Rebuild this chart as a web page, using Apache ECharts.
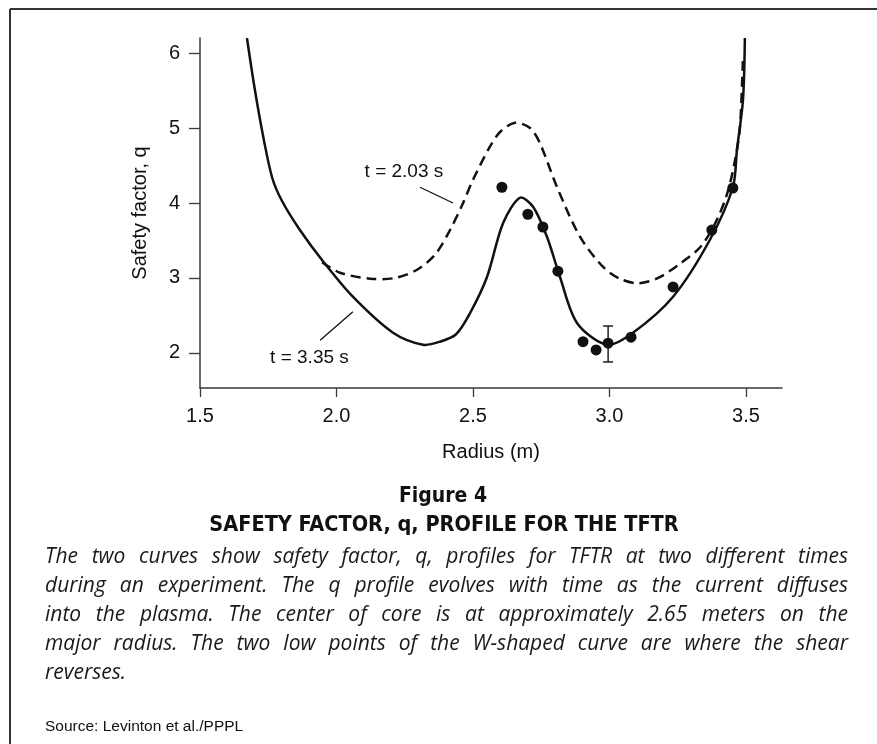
<!DOCTYPE html>
<html><head><meta charset="utf-8">
<script src="https://cdn.jsdelivr.net/npm/echarts@6/dist/echarts.min.js"></script>
<style>html,body{margin:0;padding:0;background:#fff}#c{width:877px;height:744px}</style>
</head><body><div id="c"></div>
<script>
// ---- data ----
const xTickValues = [1.5, 2.0, 2.5, 3.0, 3.5];
const yTickValues = [2, 3, 4, 5, 6];

// t = 3.35 s (solid)
const solidRadius = [1.672,1.701,1.734,1.765,1.800,1.866,1.947,2.060,2.207,2.317,2.379,2.438,2.489,2.551,2.610,2.672,2.720,2.771,2.819,2.881,2.991,3.086,3.233,3.368,3.452,3.467,3.489,3.496];
const solidQ      = [6.20, 5.51, 4.84, 4.33, 4.03, 3.64, 3.24, 2.75, 2.27, 2.11, 2.15, 2.25, 2.53, 3.01, 3.73, 4.07, 3.95, 3.55, 3.01, 2.40, 2.11, 2.27, 2.75, 3.51, 4.21, 4.71, 5.37, 6.20];

// t = 2.03 s (dashed)
const dashedRadius = [1.947,2.013,2.123,2.214,2.295,2.361,2.416,2.460,2.500,2.562,2.600,2.654,2.709,2.745,2.808,2.892,2.976,3.038,3.104,3.178,3.258,3.332,3.386,3.430,3.460,3.478,3.489];
const dashedQ      = [3.21, 3.07, 2.99, 3.00, 3.11, 3.31, 3.64, 3.97, 4.31, 4.75, 4.95, 5.07, 5.00, 4.80, 4.21, 3.55, 3.15, 2.99, 2.93, 3.00, 3.19, 3.41, 3.72, 4.11, 4.57, 5.01, 5.95];

// measured points
const dotRadius = [2.606,2.701,2.756,2.811,2.903,2.951,2.995,3.079,3.233,3.375,3.452];
const dotQ      = [4.21, 3.85, 3.68, 3.09, 2.15, 2.04, 2.13, 2.21, 2.88, 3.64, 4.20];

// error bar
const errRadius = [2.995];
const errLow    = [1.88];
const errHigh   = [2.36];

// curve labels and leader lines (data coordinates)
const labelText   = ['t = 2.03 s', 't = 3.35 s'];
const labelRadius = [2.247, 1.901];
const labelQ      = [4.41, 1.93];
const leader1 = [[2.306, 4.21], [2.427, 4.00]];
const leader2 = [[1.940, 2.17], [2.060, 2.55]];

const captionFigure = 'Figure 4';
const captionTitle = 'SAFETY FACTOR, q, PROFILE FOR THE TFTR';
const captionLines = [
  'The two curves show safety factor, q, profiles for TFTR at two different times',
  'during an experiment. The q profile evolves with time as the current diffuses',
  'into the plasma. The center of core is at approximately 2.65 meters on the',
  'major radius. The two low points of the W-shaped curve are where the shear',
  'reverses.'
];
const sourceText = 'Source: Levinton et al./PPPL';

// ---- build ----
const zip = (a, b) => a.map((v, i) => [v, b[i]]);
const INK = '#111111';
const AX = '#3a3a3a';

const chart = echarts.init(document.getElementById('c'), null, {renderer: 'canvas'});

// justified caption text, word by word
const measure = document.createElement('canvas').getContext('2d');
const capFamily = '"Open Sans", Lato, "Noto Sans", sans-serif';
const capLeft = 45, capRight = 848, capTop = 557, capStep = 29;
measure.font = 'italic 20px ' + capFamily;
let widest = 0;
captionLines.forEach(l => { widest = Math.max(widest, measure.measureText(l).width); });
const capSize = Math.max(17, Math.min(21, 20 * (capRight - capLeft - 6) / widest));
measure.font = 'italic ' + capSize + 'px ' + capFamily;
const graphics = [];
captionLines.forEach((line, li) => {
  const y = capTop + li * capStep;
  const words = line.split(' ');
  const last = li === captionLines.length - 1;
  const widths = words.map(w => measure.measureText(w).width);
  const total = widths.reduce((a, b) => a + b, 0);
  const gap = last ? measure.measureText(' ').width : (capRight - capLeft - total) / (words.length - 1);
  let x = capLeft;
  words.forEach((w, wi) => {
    graphics.push({type: 'text', x: x, y: y, silent: true,
      style: {text: w, fontSize: capSize, fontFamily: capFamily, fontStyle: 'italic',
              fill: '#1a1a1a', align: 'left', verticalAlign: 'middle'}});
    x += widths[wi] + gap;
  });
});
const boldFamily = '"DejaVu Sans Condensed", "Liberation Sans Narrow", "Liberation Sans", sans-serif';
graphics.push({type: 'text', x: 443, y: 497, silent: true,
  style: {text: captionFigure, fontSize: 21, fontWeight: 'bold', fontFamily: boldFamily, fill: '#111', align: 'center', verticalAlign: 'middle'}});
graphics.push({type: 'text', x: 444, y: 525, silent: true,
  style: {text: captionTitle, fontSize: 21.5, fontWeight: 'bold', fontFamily: boldFamily, fill: '#111', align: 'center', verticalAlign: 'middle'}});
graphics.push({type: 'text', x: 45, y: 727, silent: true,
  style: {text: sourceText, fontSize: 15.5, fontFamily: '"Liberation Sans", Arial, sans-serif', fill: '#111', align: 'left', verticalAlign: 'middle'}});
// frame
graphics.push({type: 'line', silent: true, shape: {x1: 10, y1: 9, x2: 877, y2: 9}, style: {stroke: '#333', lineWidth: 2}});
graphics.push({type: 'line', silent: true, shape: {x1: 10, y1: 9, x2: 10, y2: 744}, style: {stroke: '#333', lineWidth: 2}});

const axisFont = '"Liberation Sans", Arial, Helvetica, sans-serif';

// smooth curve drawn as one path through the axis scales
function curveSeries(name, xs, ys, dash) {
  return {
    type: 'custom', name: name, data: zip(xs, ys), encode: {x: 0, y: 1}, z: 3, clip: true,
    renderItem: (params, api) => {
      if (params.dataIndex !== 0) return null;
      const pts = xs.map((x, i) => api.coord([x, ys[i]]));
      return {type: 'polyline', shape: {points: pts, smooth: 0.3},
              style: {stroke: INK, lineWidth: 2.5, fill: null, lineDash: dash || null,
                      lineJoin: 'round', lineCap: 'butt'}};
    }
  };
}

const option = {
  backgroundColor: '#ffffff',
  animation: false,
  grid: {left: 200, top: 38, width: 582, height: 350, containLabel: false},
  xAxis: {
    type: 'value', min: 1.5, max: 3.632,
    name: 'Radius (m)', nameLocation: 'middle', nameGap: 54,
    nameTextStyle: {fontSize: 20, color: INK, fontFamily: axisFont},
    axisLine: {show: true, onZero: false, lineStyle: {color: AX, width: 1.5}},
    axisTick: {show: true, inside: false, length: 9, lineStyle: {color: AX, width: 1.3}, customValues: xTickValues},
    axisLabel: {show: true, margin: 18, fontSize: 20, color: INK, fontFamily: axisFont,
      customValues: xTickValues, formatter: v => Number(v).toFixed(1)},
    splitLine: {show: false}
  },
  yAxis: {
    type: 'value', min: 1.533, max: 6.2,
    name: 'Safety factor, q', nameLocation: 'middle', nameGap: 50, nameRotate: 90,
    nameTextStyle: {fontSize: 20, color: INK, fontFamily: axisFont},
    axisLine: {show: true, onZero: false, lineStyle: {color: AX, width: 1.5}},
    axisTick: {show: true, inside: false, length: 11, lineStyle: {color: AX, width: 1.3}, customValues: yTickValues},
    axisLabel: {show: true, margin: 20, fontSize: 20, color: INK, fontFamily: axisFont,
      customValues: yTickValues, formatter: v => String(Math.round(v))},
    splitLine: {show: false}
  },
  graphic: graphics,
  series: [
    curveSeries('t = 3.35 s', solidRadius, solidQ, null),
    curveSeries('t = 2.03 s', dashedRadius, dashedQ, [10, 6]),
    {type: 'scatter', data: zip(dotRadius, dotQ), symbol: 'circle', symbolSize: 11,
     itemStyle: {color: INK, opacity: 1}, z: 4},
    {type: 'custom', data: errRadius.map((r, i) => [r, errLow[i], errHigh[i]]),
     encode: {x: 0, y: [1, 2]}, z: 4,
     renderItem: (params, api) => {
       const x = api.value(0);
       const p1 = api.coord([x, api.value(1)]);
       const p2 = api.coord([x, api.value(2)]);
       const c = 5, st = {stroke: INK, lineWidth: 1.4};
       return {type: 'group', children: [
         {type: 'line', shape: {x1: p1[0], y1: p1[1], x2: p2[0], y2: p2[1]}, style: st},
         {type: 'line', shape: {x1: p1[0]-c, y1: p1[1], x2: p1[0]+c, y2: p1[1]}, style: st},
         {type: 'line', shape: {x1: p2[0]-c, y1: p2[1], x2: p2[0]+c, y2: p2[1]}, style: st}
       ]};
     }},
    {type: 'line', data: leader1, symbol: 'none', lineStyle: {color: INK, width: 1.3}, z: 3},
    {type: 'line', data: leader2, symbol: 'none', lineStyle: {color: INK, width: 1.3}, z: 3},
    {type: 'scatter', data: labelRadius.map((r, i) => ({value: [r, labelQ[i]], name: labelText[i]})),
     symbolSize: 0, z: 5, itemStyle: {opacity: 1},
     label: {show: true, position: 'inside', formatter: p => p.name, fontSize: 19, color: INK,
             fontFamily: axisFont, textBorderWidth: 0}}
  ]
};
chart.setOption(option);
</script>
</body></html>
